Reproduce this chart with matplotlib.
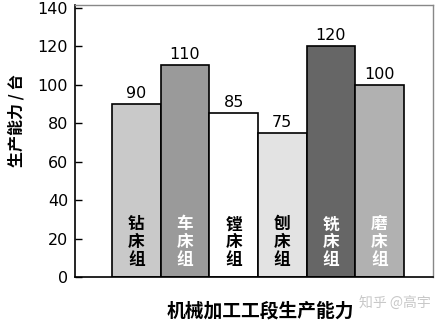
import matplotlib.pyplot as plt

plt.rcParams['font.family'] = ['DejaVu Sans', 'Noto Sans CJK SC']

groups = ["钻床组", "车床组", "镗床组", "刨床组", "铣床组", "磨床组"]
capacity = [90, 110, 85, 75, 120, 100]
bar_colors = ["#c9c9c9", "#9a9a9a", "#ffffff", "#e3e3e3", "#666666", "#b1b1b1"]
text_colors = ["black", "white", "black", "black", "white", "white"]
yticks = [0, 20, 40, 60, 80, 100, 120, 140]

fig = plt.figure(figsize=(4.42, 3.21), dpi=100)
ax = fig.add_axes([75 / 442, 1 - 277 / 321, 358 / 442, 272 / 321])

x = list(range(len(groups)))
ax.bar(x, capacity, width=1.0, color=bar_colors, edgecolor="black", linewidth=1.2)

for i, v in enumerate(capacity):
    ax.text(i, v + 1.5, str(v), ha="center", va="bottom", fontsize=11.5,
            family="DejaVu Sans")
    ax.text(i, 18, "\n".join(groups[i]), ha="center", va="center",
            fontsize=12, color=text_colors[i], family="Noto Sans CJK SC",
            fontweight="bold", linespacing=1.0)

ax.set_xlim(-1.26, 6.1)
ax.set_ylim(0, 141.3)
ax.set_xticks([])
ax.set_yticks(yticks)
ax.tick_params(axis="y", direction="in", length=5, width=1, labelsize=11.5, pad=5)

for side in ["left", "bottom"]:
    ax.spines[side].set_color("black")
    ax.spines[side].set_linewidth(1.2)
for side in ["top", "right"]:
    ax.spines[side].set_color("#888888")
    ax.spines[side].set_linewidth(1.0)

fig.text(16 / 442, 1 - 120 / 321, "生产能力 / 台", rotation=90, ha="center", va="center",
         fontsize=11.5, family="Noto Sans CJK SC", fontweight="bold")
fig.text(260 / 442, 1 - 311 / 321, "机械加工工段生产能力", ha="center", va="center",
         fontsize=13.5, family="Noto Sans CJK SC", fontweight="bold")
fig.text(395 / 442, 1 - 304 / 321, "知乎 @高宇", ha="center", va="center",
         fontsize=10, family="Noto Sans CJK SC", color="#c8c8c8")

fig.savefig("out.png", dpi=100)
